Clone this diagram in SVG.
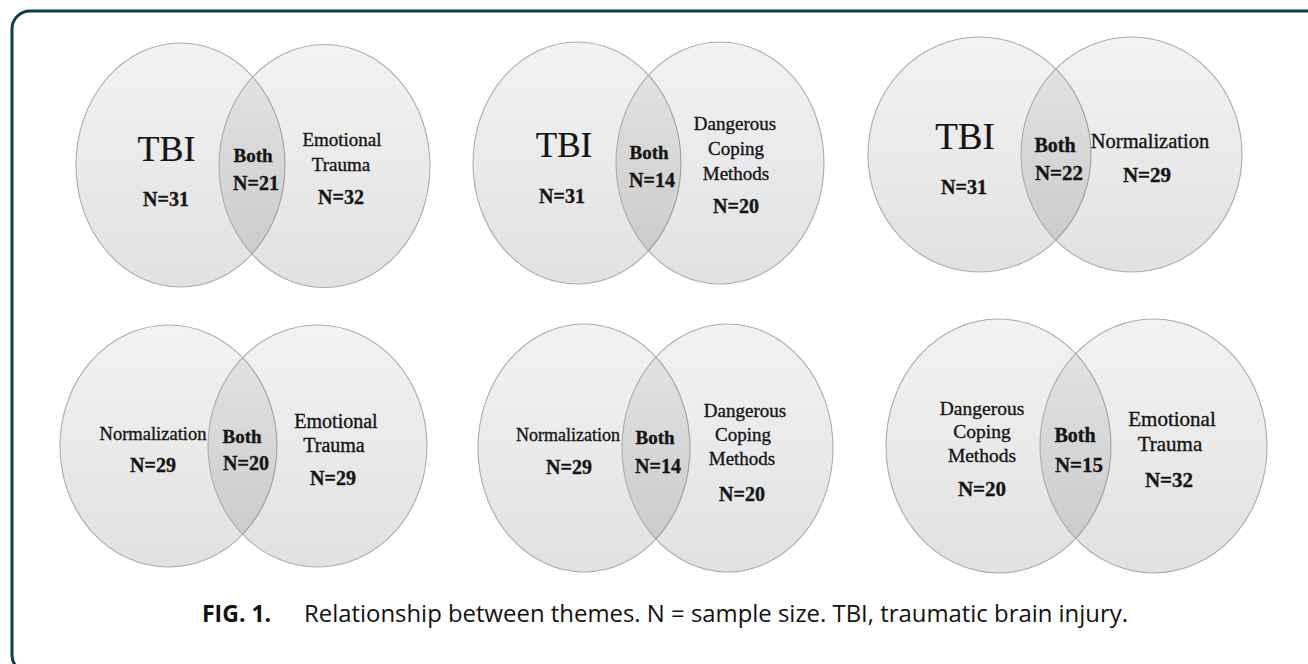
<svg xmlns="http://www.w3.org/2000/svg" width="1308" height="664" viewBox="0 0 1308 664">
<defs>
<linearGradient id="shade" x1="0" y1="0" x2="0" y2="1">
<stop offset="0" stop-color="#2a2a2a" stop-opacity="0.06"/>
<stop offset="1" stop-color="#2a2a2a" stop-opacity="0.14"/>
</linearGradient>
<style>
.set{fill:url(#shade);stroke:#acacac;stroke-width:1.1}
.t{font-family:"Liberation Serif","Times New Roman",serif;fill:#151515;stroke:#151515;stroke-width:0.35;text-anchor:middle;font-size:19px}
.n{font-weight:bold;font-size:20px}
.b{font-weight:bold;font-size:19px}
.tbi{font-size:36px;stroke-width:0.2}
.cap{font-family:"Open Sans","Noto Sans","Liberation Sans",sans-serif;fill:#111;font-size:23px}
</style>
</defs>
<rect x="0" y="0" width="1308" height="664" fill="#ffffff"/>
<rect id="frame" x="12" y="11" width="1312" height="662" rx="18" ry="18" fill="none" stroke="#0b3e4e" stroke-width="3"/>

<g id="connectors"/>

<g id="venn-tbi-emotional">
<g id="v1-left"><ellipse class="set" cx="180.5" cy="165" rx="104.5" ry="122"/></g>
<g id="v1-right"><ellipse class="set" cx="324.5" cy="166" rx="105.5" ry="121.5"/></g>
<text class="t tbi" x="166.5" y="161">TBI</text>
<text class="t n" x="166" y="206">N=31</text>
<text class="t b" x="253" y="162">Both</text>
<text class="t n" x="256" y="190">N=21</text>
<text class="t" x="342" y="146">Emotional</text>
<text class="t" x="341" y="171">Trauma</text>
<text class="t n" x="341" y="204">N=32</text>
</g>

<g id="venn-tbi-coping">
<g id="v2-left"><ellipse class="set" cx="577" cy="163" rx="104" ry="121"/></g>
<g id="v2-right"><ellipse class="set" cx="720" cy="163" rx="104" ry="121"/></g>
<text class="t tbi" x="564" y="157" style="font-size:35px">TBI</text>
<text class="t n" x="562" y="203">N=31</text>
<text class="t b" x="649" y="159">Both</text>
<text class="t n" x="652" y="187">N=14</text>
<text class="t" x="735" y="130">Dangerous</text>
<text class="t" x="736" y="155">Coping</text>
<text class="t" x="736" y="180">Methods</text>
<text class="t n" x="736" y="213">N=20</text>
</g>

<g id="venn-tbi-normalization">
<g id="v3-left"><ellipse class="set" cx="979.5" cy="154.5" rx="111.5" ry="117.5"/></g>
<g id="v3-right"><ellipse class="set" cx="1131.5" cy="154.5" rx="110.5" ry="117.5"/></g>
<text class="t tbi" x="965" y="149" style="font-size:37px">TBI</text>
<text class="t n" x="964" y="194">N=31</text>
<text class="t b" x="1055" y="152" style="font-size:20px">Both</text>
<text class="t n" x="1059" y="180" style="font-size:21px">N=22</text>
<text class="t" x="1150" y="148" style="font-size:20.5px">Normalization</text>
<text class="t n" x="1147" y="182" style="font-size:21px">N=29</text>
</g>

<g id="venn-normalization-emotional">
<g id="v4-left"><ellipse class="set" cx="168.5" cy="446" rx="108.5" ry="121"/></g>
<g id="v4-right"><ellipse class="set" cx="317.5" cy="446" rx="109.5" ry="121"/></g>
<text class="t" x="153" y="440" style="font-size:18.5px">Normalization</text>
<text class="t n" x="153" y="472">N=29</text>
<text class="t b" x="242" y="443">Both</text>
<text class="t n" x="246" y="470">N=20</text>
<text class="t" x="336" y="428" style="font-size:20px">Emotional</text>
<text class="t" x="334" y="452" style="font-size:20px">Trauma</text>
<text class="t n" x="333" y="485">N=29</text>
</g>

<g id="venn-normalization-coping">
<g id="v5-left"><ellipse class="set" cx="584" cy="448" rx="106" ry="124"/></g>
<g id="v5-right"><ellipse class="set" cx="727.5" cy="448" rx="105.5" ry="124"/></g>
<text class="t" x="568" y="441" style="font-size:18px">Normalization</text>
<text class="t n" x="569" y="474">N=29</text>
<text class="t b" x="655" y="444">Both</text>
<text class="t n" x="658" y="473">N=14</text>
<text class="t" x="745" y="417">Dangerous</text>
<text class="t" x="743" y="441">Coping</text>
<text class="t" x="742" y="465">Methods</text>
<text class="t n" x="742" y="501">N=20</text>
</g>

<g id="venn-coping-emotional">
<g id="v6-left"><ellipse class="set" cx="998.5" cy="446" rx="112.5" ry="127"/></g>
<g id="v6-right"><ellipse class="set" cx="1153.5" cy="446" rx="113.5" ry="127"/></g>
<text class="t" x="982" y="415" style="font-size:19.5px">Dangerous</text>
<text class="t" x="982" y="438" style="font-size:19.5px">Coping</text>
<text class="t" x="982" y="462" style="font-size:19.5px">Methods</text>
<text class="t n" x="982" y="496" style="font-size:21px">N=20</text>
<text class="t b" x="1075" y="442" style="font-size:20px">Both</text>
<text class="t n" x="1079" y="472" style="font-size:21px">N=15</text>
<text class="t" x="1172" y="426" style="font-size:21px">Emotional</text>
<text class="t" x="1170" y="451" style="font-size:21px">Trauma</text>
<text class="t n" x="1169" y="487" style="font-size:21px">N=32</text>
</g>

<g id="caption">
<text class="cap" x="202" y="622" style="font-weight:bold">FIG. 1.</text>
<text class="cap" x="304" y="622" textLength="824" lengthAdjust="spacingAndGlyphs">Relationship between themes. N = sample size. TBI, traumatic brain injury.</text>
</g>
</svg>
